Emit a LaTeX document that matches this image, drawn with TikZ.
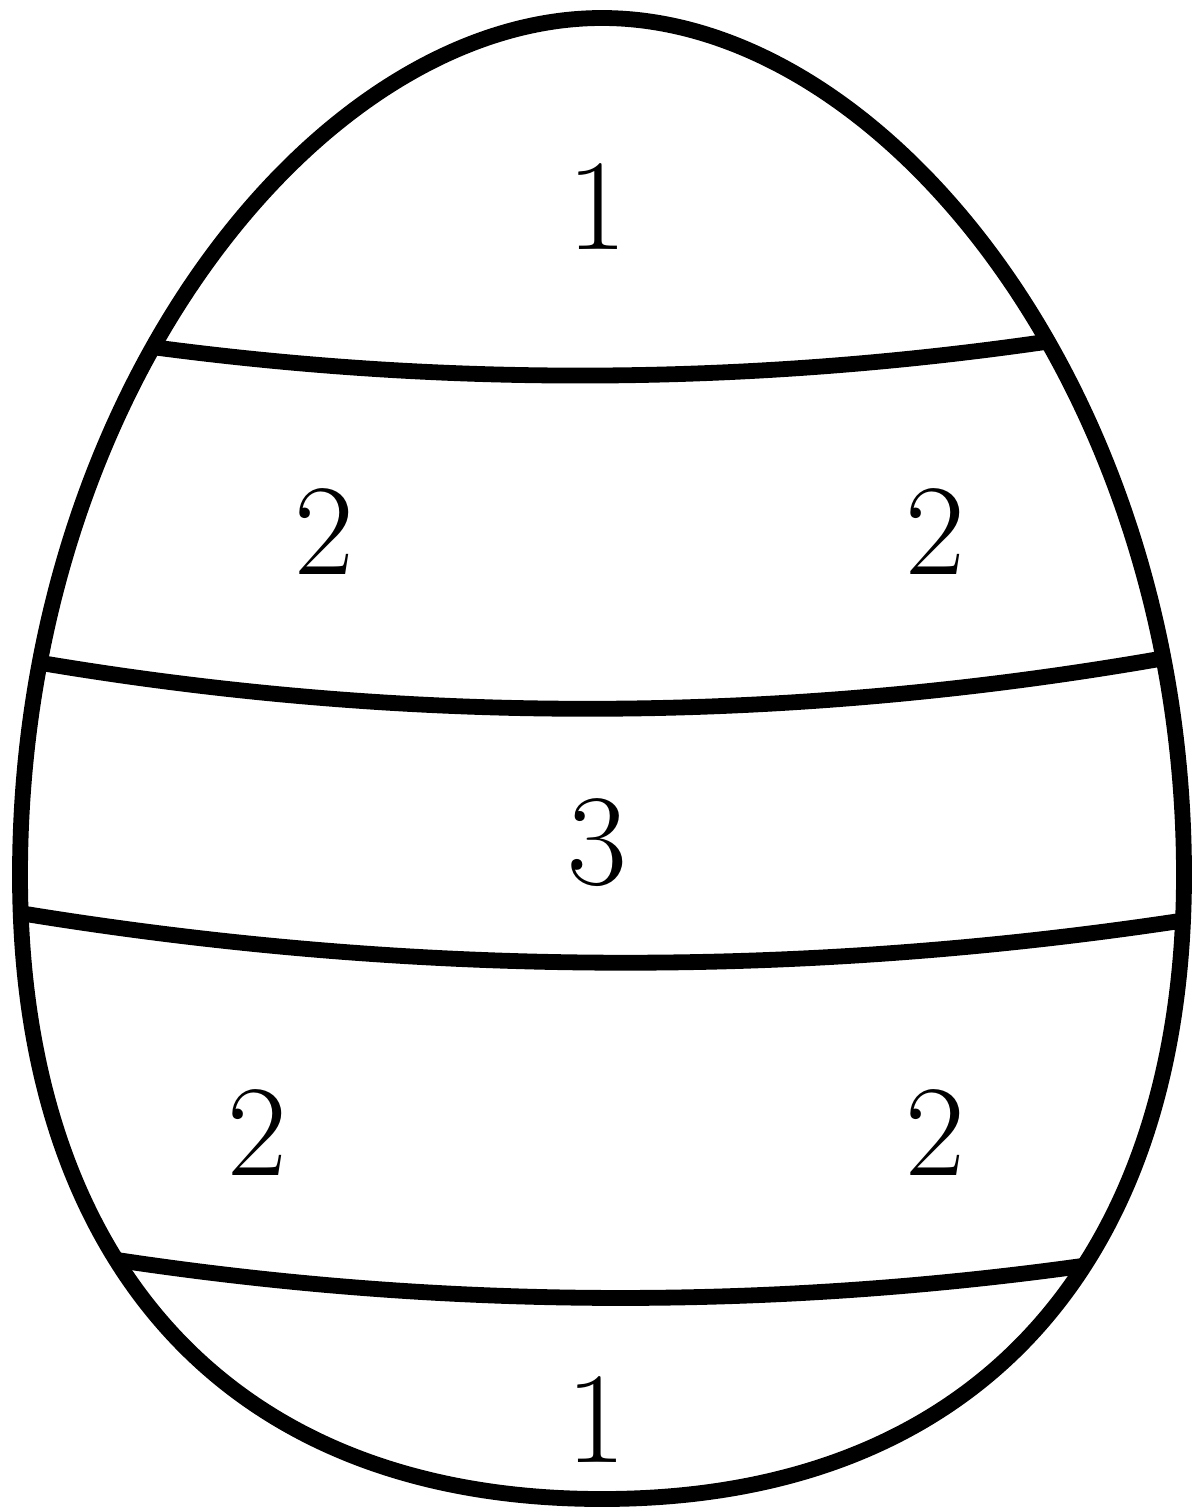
\documentclass[tikz,border=0pt]{standalone}
\begin{document}
\begin{tikzpicture}[x=0.02cm,y=-0.02cm,
  outline/.style={draw=black,line width=9pt,line join=round},
  band/.style={draw=black,line width=9pt},
  digit/.style={inner sep=0pt,anchor=center,font=\fontsize{74}{74}\selectfont}]
\useasboundingbox (0,0) rectangle (1197,1512);
\def\eggpath{(602,18) .. controls (885,18) and (1184,392) .. (1184,875)
  .. controls (1184,1255) and (982,1499) .. (602,1499)
  .. controls (222,1499) and (20,1255) .. (20,875)
  .. controls (20,392) and (319,18) .. (602,18) -- cycle}
% bands, clipped to the egg
\begin{scope}
\clip \eggpath;
\coordinate (b1l) at (130,344); \coordinate (b1r) at (1072,338);
\coordinate (b2l) at (18,659);  \coordinate (b2r) at (1182,655);
\coordinate (b3l) at (-10,908);  \coordinate (b3r) at (1212,916);
\coordinate (b4l) at (85,1255); \coordinate (b4r) at (1110,1262);
\draw[band] (b1l) .. controls (444,388) and (757,386) .. (b1r);
\draw[band] (b2l) .. controls (406,727) and (794,725) .. (b2r);
\draw[band] (b3l) .. controls (397,978) and (804,981) .. (b3r);
\draw[band] (b4l) .. controls (428,1310) and (770,1312) .. (b4r);
\end{scope}
% egg outline
\draw[outline] \eggpath;
% numbers
\node[digit] (n1) at (597,207) {1};
\node[digit] (n2a) at (324,532) {2};
\node[digit] (n2b) at (935,532) {2};
\node[digit] (n3) at (597,843) {3};
\node[digit] (n4a) at (257,1133) {2};
\node[digit] (n4b) at (935,1133) {2};
\node[digit] (n5) at (596,1420) {1};
\end{tikzpicture}
\end{document}
